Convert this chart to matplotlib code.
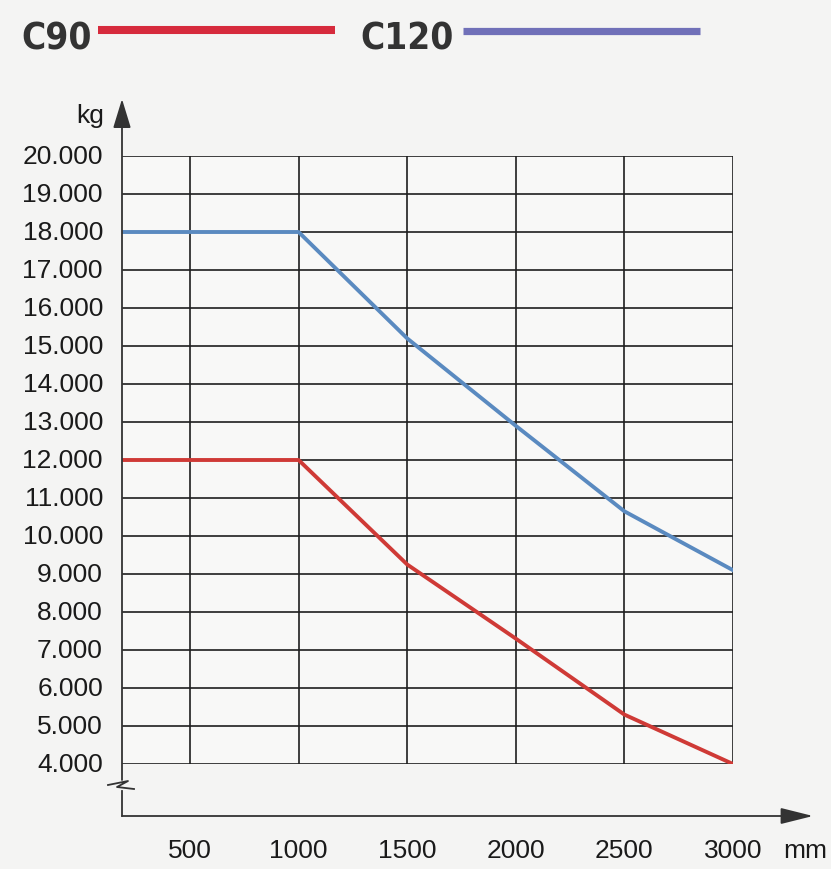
import matplotlib.pyplot as plt
from matplotlib.lines import Line2D
from matplotlib import font_manager
from matplotlib.font_manager import FontProperties

# load curves (mm vs kg)
x_mm = [187, 1000, 1500, 2000, 2500, 3000]
c90_kg = [12000, 12000, 9250, 7300, 5300, 4000]
c120_kg = [18000, 18000, 15200, 12900, 10650, 9100]

x_ticks = [500, 1000, 1500, 2000, 2500, 3000]
y_ticks = list(range(4000, 20001, 1000))

RED = '#cf3a36'
BLUE = '#5a8ac0'
RED_LEG = '#d62a3c'
BLUE_LEG = '#7070b8'
GRID = '#1e1e1e'
BG = '#f4f4f3'

names = {f.name for f in font_manager.fontManager.ttflist}
FONT = 'Liberation Sans' if 'Liberation Sans' in names else 'DejaVu Sans'

# look for a narrow/condensed bold face for the legend labels
narrow = None
for f in font_manager.fontManager.ttflist:
    fn = f.fname.lower()
    if ('condensed' in fn or 'narrow' in fn) and 'bold' in fn and 'extra' not in fn \
            and 'semi' not in fn and 'italic' not in fn and 'oblique' not in fn:
        if narrow is None or 'semibold' in narrow.lower():
            narrow = f.fname
print('fonts:', FONT, narrow)

W, H = 831, 870
fig = plt.figure(figsize=(W / 100, H / 100), dpi=100, facecolor=BG)

# grid area in pixels: left 122, right 733, top 157, bottom 765
L, R, T, B = 122, 733, 157, 765
ax = fig.add_axes([L / W, 1 - B / H, (R - L) / W, (B - T) / H])
ax.set_facecolor('#f8f8f7')

ax.set_xlim(x_mm[0], 3000)
ax.set_ylim(4000, 20000)

for v in x_ticks:
    ax.axvline(v, color=GRID, lw=1.2, zorder=1)
for v in y_ticks:
    ax.axhline(v, color=GRID, lw=1.2, zorder=1)

for s in ax.spines.values():
    s.set_visible(False)

ax.plot(x_mm, c120_kg, color=BLUE, lw=2.8, zorder=3, solid_joinstyle='round')
ax.plot(x_mm, c90_kg, color=RED, lw=2.8, zorder=3, solid_joinstyle='round')

ax.set_xticks([])
ax.set_yticks([])

def px(X, Y):
    return ((X - L) / (R - L), (B - Y) / (B - T))

fs = 19
tc = '#1a1a1a'
for v in y_ticks:
    ax.text(px(103, 0)[0], v, f'{v // 1000}.{v % 1000:03d}', transform=ax.get_yaxis_transform(),
            ha='right', va='center', fontsize=fs, family=FONT, color=tc)
for v in x_ticks:
    ax.text(v, px(0, 851)[1], str(v), transform=ax.get_xaxis_transform(),
            ha='center', va='center', fontsize=fs, family=FONT, color=tc)
ax.text(*px(805, 851), 'mm', transform=ax.transAxes, ha='center', va='center',
        fontsize=fs, family=FONT, color=tc)
ax.text(*px(104, 116), 'kg', transform=ax.transAxes, ha='right', va='center',
        fontsize=fs, family=FONT, color=tc)

# axis lines with arrows and a break mark on the vertical axis
arrow_v = dict(arrowstyle='-|>,head_length=1.8,head_width=0.55', color='#333333',
               lw=1.3, shrinkA=0, shrinkB=0)
arrow_h = dict(arrowstyle='-|>,head_length=2.0,head_width=0.5', color='#333333',
               lw=1.3, shrinkA=0, shrinkB=0)
ax.annotate('', xy=px(L, 100), xytext=px(L, 781), xycoords='axes fraction',
            arrowprops=arrow_v, annotation_clip=False)
ax.annotate('', xy=px(813, 817), xytext=px(L, 817), xycoords='axes fraction',
            arrowprops=arrow_h, annotation_clip=False)
lower = [px(L, 817), px(L, 792)]
zig = [px(108, 786), px(128, 782), px(117, 788), px(134, 790)]
for pts in (lower, zig):
    ax.add_line(Line2D([p[0] for p in pts], [p[1] for p in pts], transform=ax.transAxes,
                       color='#333333', lw=1.3, clip_on=False))

# legend at top
if narrow:
    leg_font = dict(fontproperties=FontProperties(fname=narrow, size=26.5), color='#333333')
else:
    leg_font = dict(family='DejaVu Sans', weight='bold', fontsize=24, color='#333333')
fig.text(21 / W, 1 - 49 / H, 'C90', ha='left', va='baseline', **leg_font)
fig.add_artist(Line2D([98 / W, 335 / W], [1 - 31 / H] * 2, color=RED_LEG, lw=5.8,
                      solid_capstyle='butt'))
fig.text(360 / W, 1 - 49 / H, 'C120', ha='left', va='baseline', **leg_font)
fig.add_artist(Line2D([463 / W, 700 / W], [1 - 32 / H] * 2, color=BLUE_LEG, lw=5.2,
                      solid_capstyle='butt'))

fig.savefig('out.png', dpi=100, facecolor=BG)
